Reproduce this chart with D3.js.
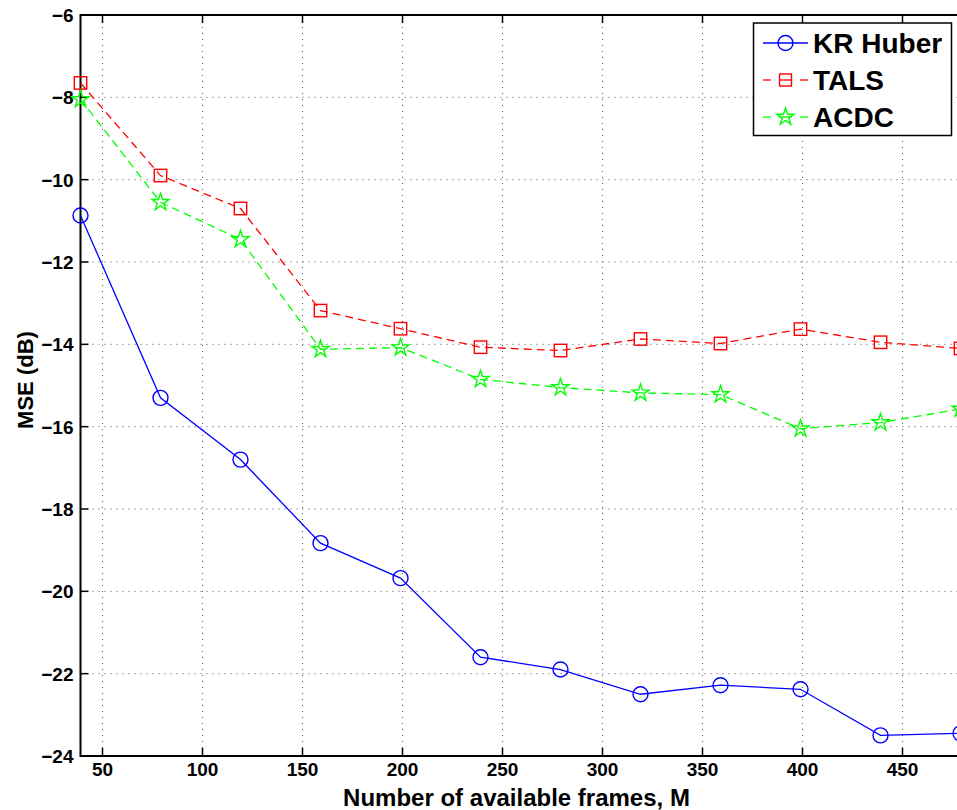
<!DOCTYPE html>
<html>
<head>
<meta charset="utf-8">
<script src="https://cdn.jsdelivr.net/npm/d3@7"></script>
<style>
  body { margin: 0; background: #fff; }
  text { font-family: "Liberation Sans", Arial, sans-serif; font-weight: bold; }
</style>
</head>
<body>
<svg id="chart" width="957" height="810"></svg>
<script>
// frames M
const frames = [39, 79, 119, 159, 199, 239, 279, 319, 359, 399, 439, 479];
const krHuber = [-10.87, -15.3, -16.8, -18.83, -19.68, -21.6, -21.9, -22.5, -22.28, -22.38, -23.5, -23.45];
const tals = [-7.65, -9.9, -10.7, -13.18, -13.62, -14.07, -14.15, -13.87, -13.98, -13.63, -13.95, -14.1];
const acdc = [-8.05, -10.55, -11.45, -14.12, -14.08, -14.85, -15.05, -15.18, -15.22, -16.05, -15.9, -15.57];
const xTicks = [50, 100, 150, 200, 250, 300, 350, 400, 450];
const yTicks = [-6, -8, -10, -12, -14, -16, -18, -20, -22, -24];

const series = [
  { name: "KR Huber", values: krHuber, color: "#0000ff", dash: null, marker: "circle" },
  { name: "TALS", values: tals, color: "#ff0000", dash: "8,5", marker: "square" },
  { name: "ACDC", values: acdc, color: "#00ff00", dash: "8,5", marker: "star" }
];

var svg = d3.select("#chart");
var mLeft = 80.5, mTop = 15, mRight = 962.5, mBottom = 756;

var x = d3.scaleLinear().domain([39, 480]).range([mLeft, mRight]);
var y = d3.scaleLinear().domain([-24, -6]).range([mBottom, mTop]);

// grid lines (dotted)
var grid = svg.append("g");
grid.selectAll("line.vg").data(xTicks).join("line")
  .attr("x1", d => x(d)).attr("x2", d => x(d))
  .attr("y1", mTop).attr("y2", mBottom)
  .attr("stroke", "#555").attr("stroke-width", 1).attr("stroke-dasharray", "1,5");
grid.selectAll("line.hg").data(yTicks.slice(1, -1)).join("line")
  .attr("x1", mLeft).attr("x2", mRight)
  .attr("y1", d => y(d)).attr("y2", d => y(d))
  .attr("stroke", "#555").attr("stroke-width", 1).attr("stroke-dasharray", "1,5");

// axes box
svg.append("rect").attr("x", mLeft).attr("y", mTop)
  .attr("width", mRight - mLeft).attr("height", mBottom - mTop)
  .attr("fill", "none").attr("stroke", "#000").attr("stroke-width", 2);

// inward ticks
var ticks = svg.append("g").attr("stroke", "#000").attr("stroke-width", 1.5);
xTicks.forEach(function (t) {
  ticks.append("line").attr("x1", x(t)).attr("x2", x(t)).attr("y1", mBottom).attr("y2", mBottom - 8);
  ticks.append("line").attr("x1", x(t)).attr("x2", x(t)).attr("y1", mTop).attr("y2", mTop + 8);
});
yTicks.forEach(function (t) {
  ticks.append("line").attr("x1", mLeft).attr("x2", mLeft + 8).attr("y1", y(t)).attr("y2", y(t));
});

// tick labels
svg.append("g").selectAll("text").data(xTicks).join("text")
  .attr("x", d => x(d)).attr("y", mBottom + 20)
  .attr("text-anchor", "middle").attr("font-size", 19)
  .text(d => d);
svg.append("g").selectAll("text").data(yTicks).join("text")
  .attr("x", mLeft - 7).attr("y", d => y(d) + 7)
  .attr("text-anchor", "end").attr("font-size", 19)
  .text(d => "\u2212" + Math.abs(d));

// axis titles
svg.append("text").attr("x", 516.5).attr("y", 806)
  .attr("text-anchor", "middle").attr("font-size", 24)
  .text("Number of available frames, M");
svg.append("text").attr("transform", "translate(33,380) rotate(-90)")
  .attr("text-anchor", "middle").attr("font-size", 22)
  .text("MSE (dB)");

function starPath(r) {
  var pts = [];
  for (var i = 0; i < 10; i++) {
    var rr = i % 2 === 0 ? r : r * 0.382;
    var a = -Math.PI / 2 + i * Math.PI / 5;
    pts.push([rr * Math.cos(a), rr * Math.sin(a)]);
  }
  return "M" + pts.map(p => p[0].toFixed(2) + "," + p[1].toFixed(2)).join("L") + "Z";
}

function drawMarker(g, type, color) {
  if (type === "circle") {
    g.append("circle").attr("r", 7.5).attr("fill", "none").attr("stroke", color).attr("stroke-width", 1.4);
  } else if (type === "square") {
    g.append("rect").attr("x", -6.2).attr("y", -6.2).attr("width", 12.4).attr("height", 12.4)
      .attr("fill", "none").attr("stroke", color).attr("stroke-width", 1.4);
  } else {
    g.append("path").attr("d", starPath(9)).attr("fill", "none").attr("stroke", color).attr("stroke-width", 1.4);
  }
}

var line = d3.line().x(d => x(d[0])).y(d => y(d[1]));
var plot = svg.append("g");

series.forEach(function (s) {
  var pts = frames.map((f, i) => [f, s.values[i]]);
  plot.append("path").datum(pts)
    .attr("d", line)
    .attr("fill", "none").attr("stroke", s.color).attr("stroke-width", 1.3)
    .attr("stroke-dasharray", s.dash);
  pts.forEach(function (p) {
    var g = plot.append("g").attr("transform", "translate(" + x(p[0]) + "," + y(p[1]) + ")");
    drawMarker(g, s.marker, s.color);
  });
});

// legend
var lg = svg.append("g");
lg.append("rect").attr("x", 753.5).attr("y", 23).attr("width", 198).attr("height", 112.5)
  .attr("fill", "#fff").attr("stroke", "#000").attr("stroke-width", 1.5);
series.forEach(function (s, i) {
  var cy = 43 + i * 37;
  var segs = s.dash ? [[763, 771], [779, 792], [800, 808]] : [[763, 808]];
  segs.forEach(function (sg) {
    lg.append("line").attr("x1", sg[0]).attr("x2", sg[1]).attr("y1", cy).attr("y2", cy)
      .attr("stroke", s.color).attr("stroke-width", 1.3);
  });
  var mg = lg.append("g").attr("transform", "translate(785.5," + cy + ")");
  if (s.marker === "square") {
    mg.append("rect").attr("x", -6).attr("y", -6).attr("width", 12).attr("height", 12)
      .attr("fill", "none").attr("stroke", s.color).attr("stroke-width", 1.4);
  } else {
    drawMarker(mg, s.marker, s.color);
  }
  lg.append("text").attr("x", 813).attr("y", cy + 10).attr("font-size", 28).text(s.name);
});
</script>
</body>
</html>
